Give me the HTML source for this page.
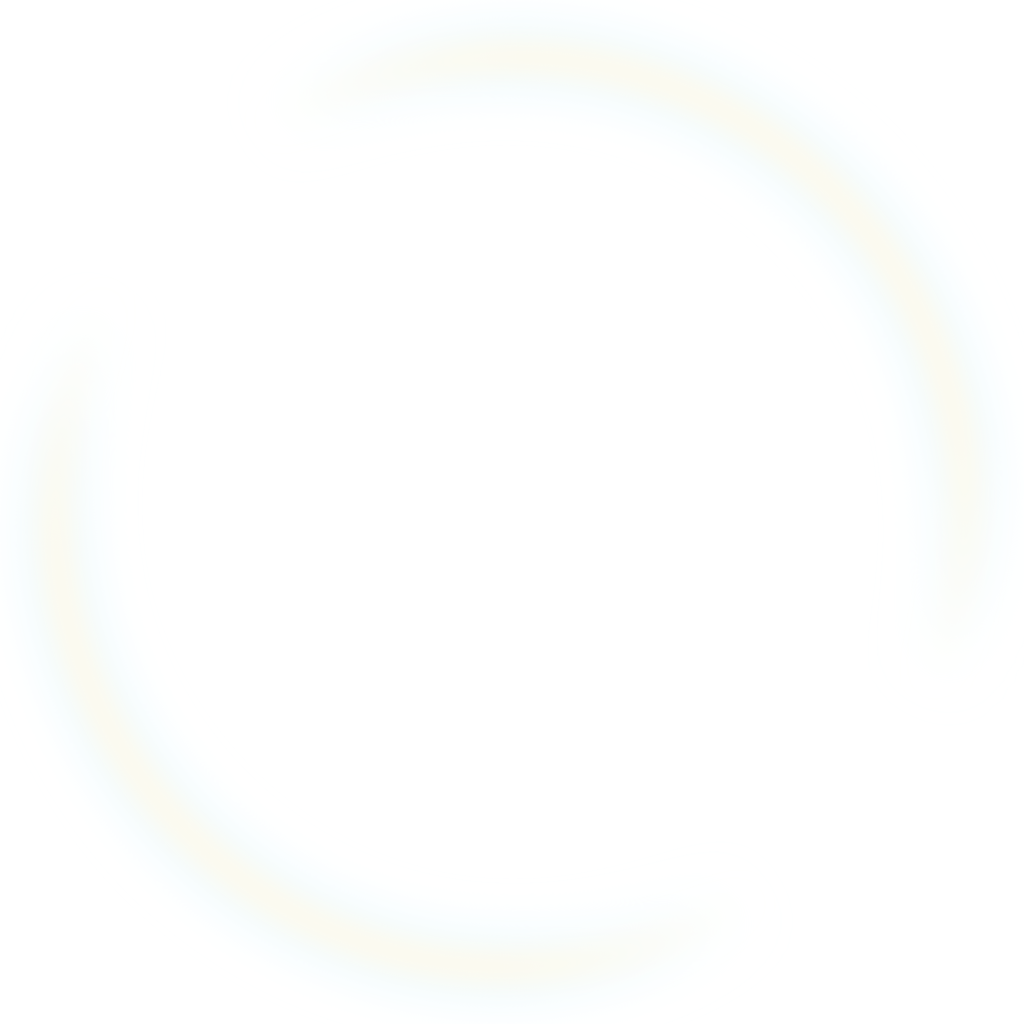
<!DOCTYPE html>
<html>
<head>
<meta charset="utf-8">
<style>
  html,body{margin:0;padding:0;background:#ffffff;}
  #wrap{width:1024px;height:1024px;position:relative;overflow:hidden;background:#fff;}
  svg{display:block;}
</style>
</head>
<body>
<div id="wrap">
<svg id="ring" width="1024" height="1024" viewBox="0 0 1024 1024">
  <defs>
    <filter id="blurOuter" x="-20%" y="-20%" width="140%" height="140%">
      <feGaussianBlur stdDeviation="22"/>
    </filter>
    <filter id="blurInner" x="-20%" y="-20%" width="140%" height="140%">
      <feGaussianBlur stdDeviation="14"/>
    </filter>
  </defs>
  <g id="halos" filter="url(#blurOuter)"></g>
  <g id="cores" filter="url(#blurInner)"></g>
</svg>
</div>
<script>
// arc segments in degrees (SVG angle convention, clockwise from +x)
const arcStarts = [235, 55];
const arcEnds = [385, 210];
const arcNames = ['upper-arc', 'lower-arc'];
const haloColors = ['#f0fbff', '#f0fbff'];
const coreColors = ['#fffaea', '#fffaea'];

const cx = 510, cy = 512, r = 455;
const fade = 40, step = 2;
function polar(deg, rad){
  const a = deg * Math.PI / 180;
  return [cx + rad * Math.cos(a), cy + rad * Math.sin(a)];
}
function arcPath(a0, a1, rad){
  const p0 = polar(a0, rad), p1 = polar(a1, rad);
  return `M${p0[0]},${p0[1]} A${rad},${rad} 0 0 1 ${p1[0]},${p1[1]}`;
}
const ns = 'http://www.w3.org/2000/svg';
const gh = document.getElementById('halos');
const gc = document.getElementById('cores');
for (let i = 0; i < arcStarts.length; i++){
  const s = arcStarts[i], e = arcEnds[i];
  for (let a = s; a < e; a += step){
    const mid = a + step / 2;
    const t = Math.min(1, (mid - s) / fade, (e - mid) / fade);
    const op = t * t * (3 - 2 * t);
    const halo = document.createElementNS(ns, 'path');
    halo.setAttribute('d', arcPath(a, Math.min(a + step + 0.5, e), r));
    halo.setAttribute('fill', 'none');
    halo.setAttribute('stroke', haloColors[i]);
    halo.setAttribute('stroke-width', '70');
    halo.setAttribute('stroke-opacity', op);
    
    
    gh.appendChild(halo);

    const core = document.createElementNS(ns, 'path');
    core.setAttribute('d', arcPath(a, Math.min(a + step + 0.5, e), r));
    core.setAttribute('fill', 'none');
    core.setAttribute('stroke', coreColors[i]);
    core.setAttribute('stroke-width', '30');
    core.setAttribute('stroke-opacity', op);
    
    
    gc.appendChild(core);
  }
}
</script>
</body>
</html>
